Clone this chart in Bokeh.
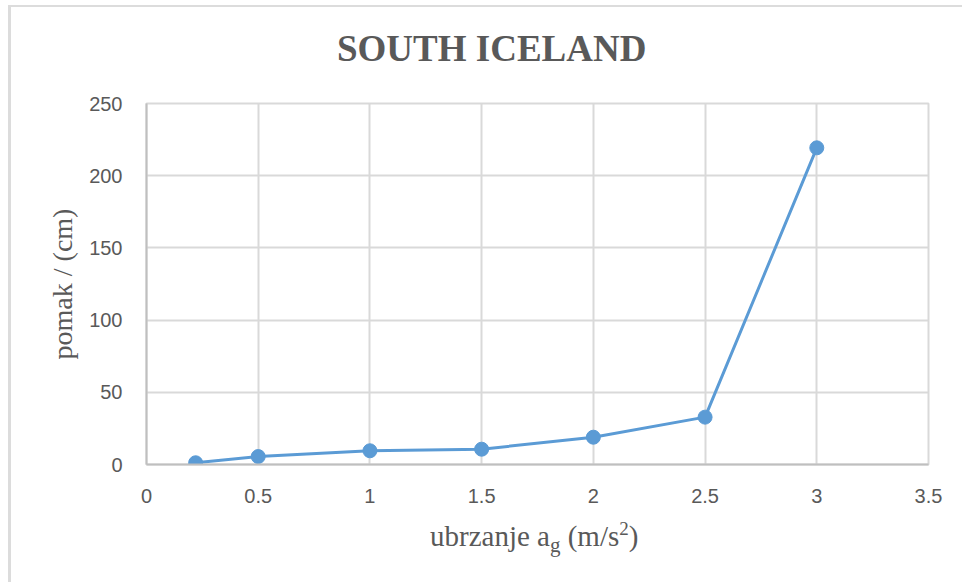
from bokeh.plotting import figure
from bokeh.models import NumeralTickFormatter, FixedTicker, Range1d, Div
from bokeh.layouts import column
from bokeh.embed import file_html
from bokeh.resources import INLINE

# data
accel = [0.22, 0.5, 1.0, 1.5, 2.0, 2.5, 3.0]
displacement = [1.2, 5.5, 9.5, 10.6, 18.9, 32.8, 219.3]
x_ticks = [0, 0.5, 1, 1.5, 2, 2.5, 3, 3.5]
y_ticks = [0, 50, 100, 150, 200, 250]
title_text = "SOUTH ICELAND"
y_label = "pomak / (cm)"
x_label_main = "ubrzanje a"
x_label_sub = "g"
x_label_unit = " (m/s"
x_label_sup = "2"

TXT = "#595959"
GRID = "#d9d9d9"
BLUE = "#5b9bd5"

title_html = (
    '<div style="font-family:\'Liberation Serif\'; font-size:37px; font-weight:bold; color:%s; '
    'line-height:44px; padding-top:20px; padding-left:326px; white-space:nowrap;">%s</div>'
    % (TXT, title_text)
)
head = Div(text=title_html, width=951, height=80, margin=(0, 0, 0, 0),
           styles={"background-color": "white"})

p = figure(width=951, height=428, output_backend="svg", toolbar_location=None,
           x_range=Range1d(0, 3.5), y_range=Range1d(0, 250),
           min_border_left=135, min_border_right=34, min_border_top=16, min_border_bottom=51,
           background_fill_color="white", border_fill_color="white")
p.title = None

p.line(accel, displacement, line_color=BLUE, line_width=3)
p.scatter(accel, displacement, size=14, fill_color=BLUE, line_color=BLUE)

p.xaxis.ticker = FixedTicker(ticks=x_ticks)
p.yaxis.ticker = FixedTicker(ticks=y_ticks)
p.xaxis.formatter = NumeralTickFormatter(format="0.[0]")
p.yaxis.formatter = NumeralTickFormatter(format="0")

for ax in (p.xaxis, p.yaxis):
    ax.major_tick_line_color = None
    ax.minor_tick_line_color = None
    ax.axis_line_color = "#bfbfbf"
    ax.axis_line_width = 2
    ax.major_label_text_font = "Liberation Sans"
    ax.major_label_text_font_size = "20px"
    ax.major_label_text_color = TXT
p.xaxis.major_label_standoff = 18
p.yaxis.major_label_standoff = 18

p.yaxis.axis_label = y_label
p.yaxis.axis_label_text_font = "Liberation Serif"
p.yaxis.axis_label_text_font_size = "28px"
p.yaxis.axis_label_text_font_style = "normal"
p.yaxis.axis_label_text_color = TXT
p.yaxis.axis_label_standoff = 8

p.grid.grid_line_color = GRID
p.grid.grid_line_width = 2
p.outline_line_color = GRID
p.outline_line_width = 2

html = (
    '<div style="font-family:\'Liberation Serif\'; font-size:29px; color:%s; '
    'line-height:34px; padding-top:4px; padding-left:284px; white-space:nowrap;">'
    '%s<span style="font-size:21px; position:relative; top:6px;">%s</span>'
    '%s<span style="font-size:19px; position:relative; top:-11px;">%s</span>)</div>'
    % (TXT, x_label_main, x_label_sub, x_label_unit, x_label_sup)
)
xlab = Div(text=html, width=951 - 135, height=67, margin=(0, 0, 0, 135),
           styles={"background-color": "white"})

layout = column(head, p, xlab, spacing=0, margin=(5, 0, 0, 8),
                styles={"border-left": "3px solid #dcdcdc", "border-top": "2px solid #dcdcdc"})
open("out.html", "w").write(file_html(layout, INLINE))
